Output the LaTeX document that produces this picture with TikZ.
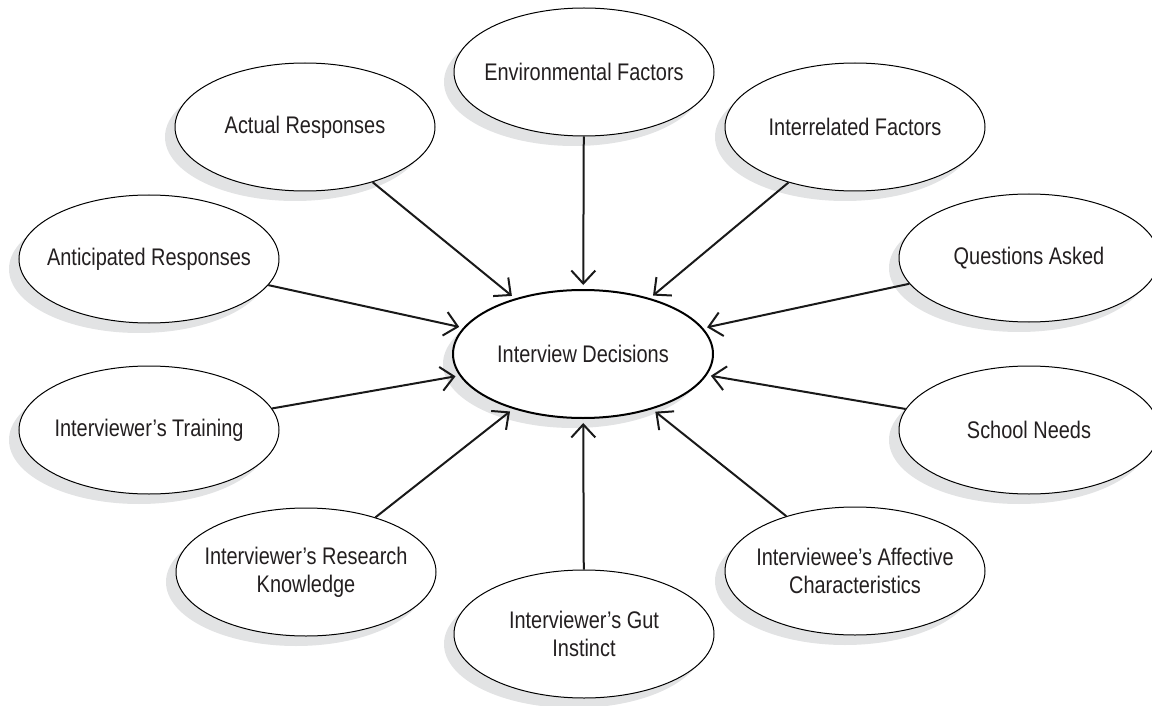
\documentclass[tikz,border=0pt]{standalone}
\usepackage{fontspec}
\setmainfont{Liberation Sans}[FakeStretch=0.83]
\usetikzlibrary{arrows.meta,shadows,shapes.geometric}
\definecolor{shd}{HTML}{E2E3E4}
\definecolor{txt}{HTML}{231F20}
\tikzset{
  bubble/.style={ellipse, draw=black, line width=1pt, fill=white,
    minimum width=260pt, minimum height=128pt, inner xsep=-30pt, inner ysep=0pt,
    align=center, text=txt, font=\fontsize{24}{28}\selectfont,
    drop shadow={shadow xshift=-10pt, shadow yshift=-10pt, fill=shd, opacity=1}},
  hub/.style={bubble, line width=2pt},
  link/.style={line width=2pt, draw=black!90,
    -{Straight Barb[length=13pt,width=24pt,line width=2pt]}, shorten >=4pt}
}
\begin{document}
\begin{tikzpicture}[x=1pt,y=-1pt]
\useasboundingbox (0,0) rectangle (1152,706);
\node[hub] (c) at (583,354) {Interview Decisions};
\node[bubble] (env) at (584,72) {Environmental Factors};
\node[bubble] (act) at (305,127) {Actual Responses};
\node[bubble] (irf) at (855,127) {Interrelated Factors};
\node[bubble] (ant) at (149,259) {Anticipated Responses};
\node[bubble] (qa) at (1029,258) {Questions Asked};
\node[bubble] (tr) at (149,430) {Interviewer’s Training};
\node[bubble] (sn) at (1029,430) {School Needs};
\node[bubble] (rk) at (306,572) {Interviewer’s Research\\Knowledge};
\node[bubble] (ac) at (855,571) {Interviewee’s Affective\\Characteristics};
\node[bubble] (gut) at (584,634) {Interviewer’s Gut\\Instinct};
\foreach \n in {env,act,irf,ant,qa,tr,sn,rk,ac,gut}
  \draw[link] (\n) -- (c);
\end{tikzpicture}
\end{document}
